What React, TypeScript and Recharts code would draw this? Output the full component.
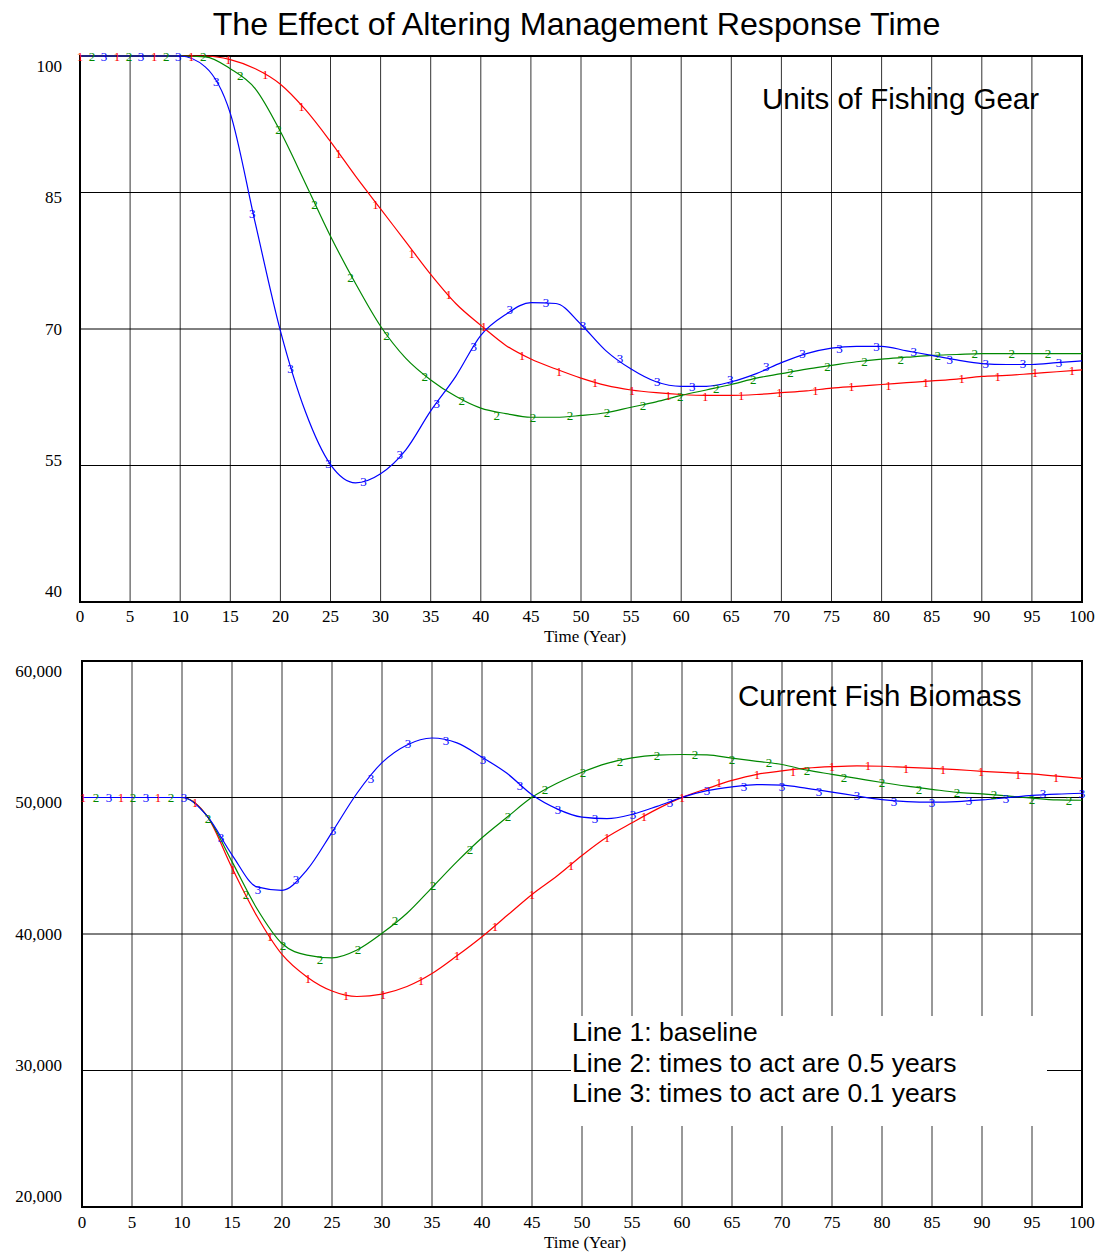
import React from "react";
import {
  ComposedChart,
  Line,
  XAxis,
  YAxis,
  CartesianGrid,
  ReferenceArea,
} from "recharts";

// time axis (years), sampled every 2.5 years
const TIME = [
  0, 2.5, 5, 7.5, 10, 12.5, 15, 17.5, 20, 22.5, 25, 27.5, 30, 32.5, 35, 37.5, 40,
  42.5, 45, 47.5, 50, 52.5, 55, 57.5, 60, 62.5, 65, 67.5, 70, 72.5, 75, 77.5, 80,
  82.5, 85, 87.5, 90, 92.5, 95, 97.5, 100,
];

// Units of Fishing Gear
const GEAR_1 = [
  100, 100, 100, 100, 100, 100, 99.6, 98.6, 96.9, 94.1, 90.6, 86.8, 83.2, 79.6, 76.0,
  72.8, 70.4, 68.2, 66.7, 65.6, 64.6, 63.8, 63.3, 63.0, 62.8, 62.7, 62.7, 62.8, 63.0,
  63.2, 63.5, 63.7, 63.9, 64.1, 64.3, 64.5, 64.8, 64.9, 65.1, 65.3, 65.5,
];
const GEAR_2 = [
  100, 100, 100, 100, 100, 99.9, 98.6, 96.4, 91.7, 86.0, 80.2, 75.0, 70.3, 66.8, 64.4,
  62.6, 61.3, 60.7, 60.3, 60.3, 60.5, 60.8, 61.4, 62.0, 62.7, 63.3, 63.9, 64.6, 65.1,
  65.6, 66.0, 66.4, 66.7, 66.9, 67.1, 67.2, 67.3, 67.3, 67.3, 67.3, 67.3,
];
const GEAR_3 = [
  100, 100, 100, 100, 100, 98.8, 93.7, 81.6, 69.8, 60.9, 55.1, 53.1, 54.1, 56.7, 61.0,
  64.8, 69.3, 71.6, 72.9, 72.8, 70.5, 67.6, 65.6, 64.2, 63.7, 63.7, 64.2, 65.1, 66.3,
  67.3, 67.9, 68.1, 68.1, 67.6, 67.1, 66.6, 66.2, 66.1, 66.1, 66.3, 66.5,
];

// Current Fish Biomass
const BIOMASS_1 = [
  50000, 50000, 50000, 50000, 50000, 48650, 44850, 41300, 38500, 36850, 35820, 35420,
  35600, 36150, 37100, 38400, 39800, 41350, 42900, 44250, 45750, 47100, 48150, 49150,
  50010, 50650, 51250, 51700, 51950, 52150, 52260, 52320, 52290, 52200, 52130, 52040,
  51920, 51820, 51730, 51560, 51400,
];
const BIOMASS_2 = [
  50000, 50000, 50000, 50000, 50000, 48650, 45300, 41850, 39300, 38450, 38250, 38830,
  40050, 41520, 43400, 45300, 47050, 48550, 50010, 51040, 51850, 52500, 52900, 53100,
  53150, 53120, 52880, 52650, 52420, 52000, 51700, 51400, 51100, 50830, 50600, 50380,
  50260, 50120, 49950, 49820, 49800,
];
const BIOMASS_3 = [
  50000, 50000, 50000, 50000, 50000, 48650, 45800, 43450, 43200, 44700, 47450, 50310,
  52550, 53850, 54360, 54000, 52950, 51770, 50200, 49170, 48560, 48450, 48760, 49350,
  50010, 50500, 50780, 50950, 50900, 50670, 50400, 50110, 49850, 49700, 49660, 49700,
  49820, 49980, 50150, 50250, 50310,
];

// numbered line markers [time, value]
const GEAR_MARKS_1 = [
  [0, 100], [3.7, 100], [7.4, 100], [11.1, 100], [14.8, 99.6], [18.5, 98.0], [22.1, 94.4],
  [25.8, 89.3], [29.5, 83.7], [33.1, 78.3], [36.8, 73.8], [40.3, 70.3], [44.1, 67.1],
  [47.8, 65.3], [51.4, 64.1], [55.1, 63.2], [58.7, 62.7], [62.4, 62.6], [66.0, 62.7],
  [69.8, 63.0], [73.4, 63.2], [77.0, 63.7], [80.7, 63.8], [84.4, 64.1], [88.0, 64.6],
  [91.6, 64.8], [95.3, 65.2], [99.0, 65.4],
];
const GEAR_MARKS_2 = [
  [1.2, 100], [4.9, 100], [8.6, 100], [12.3, 99.9], [16.0, 97.9], [19.8, 91.9], [23.4, 83.7],
  [27.0, 75.7], [30.6, 69.3], [34.4, 64.8], [38.1, 62.1], [41.6, 60.5], [45.2, 60.3],
  [48.9, 60.5], [52.6, 60.8], [56.2, 61.6], [59.9, 62.6], [63.5, 63.5], [67.2, 64.4],
  [70.9, 65.2], [74.6, 65.9], [78.3, 66.4], [81.9, 66.7], [85.6, 67.1], [89.3, 67.3],
  [93.0, 67.3], [96.6, 67.3],
];
const GEAR_MARKS_3 = [
  [2.4, 100], [6.1, 100], [9.8, 100], [13.6, 97.2], [17.2, 82.7], [21.0, 65.7], [24.8, 55.2],
  [28.3, 53.2], [31.9, 56.2], [35.6, 61.8], [39.3, 68.1], [42.9, 72.1], [46.5, 72.9],
  [50.2, 70.4], [53.9, 66.8], [57.6, 64.2], [61.1, 63.7], [64.9, 64.5], [68.5, 65.9],
  [72.1, 67.3], [75.8, 67.9], [79.5, 68.1], [83.2, 67.5], [86.8, 66.7], [90.4, 66.2],
  [94.1, 66.2], [97.7, 66.3],
];
const BIOMASS_MARKS_1 = [
  [0.1, 50000], [3.9, 50000], [7.6, 50000], [11.3, 49620], [15.1, 44690], [18.8, 39800],
  [22.6, 36760], [26.4, 35530], [30.1, 35600], [33.9, 36630], [37.5, 38390], [41.3, 40530],
  [45.0, 42860], [48.9, 45000], [52.5, 47060], [56.2, 48640], [60.0, 50010], [63.7, 51080],
  [67.5, 51720], [71.1, 51890], [75.0, 52260], [78.6, 52330], [82.4, 52140], [86.1, 52070],
  [89.9, 51890], [93.6, 51720], [97.4, 51480],
];
const BIOMASS_MARKS_2 = [
  [1.4, 50000], [5.1, 50000], [8.9, 50000], [12.6, 48480], [16.4, 42860], [20.1, 39190],
  [23.8, 38150], [27.6, 38880], [31.3, 40980], [35.1, 43520], [38.8, 46210], [42.6, 48590],
  [46.3, 50550], [50.1, 51840], [53.8, 52620], [57.5, 53060], [61.3, 53160], [65.0, 52820],
  [68.7, 52550], [72.5, 51960], [76.2, 51450], [80.0, 51080], [83.7, 50600], [87.5, 50380],
  [91.2, 50240], [95.0, 49820], [98.7, 49770],
];
const BIOMASS_MARKS_3 = [
  [2.7, 50000], [6.4, 50000], [10.2, 50000], [13.9, 47080], [17.6, 43270], [21.4, 44010],
  [25.1, 47570], [28.9, 51410], [32.6, 53920], [36.4, 54210], [40.1, 52820], [43.8, 50870],
  [47.6, 49140], [51.3, 48430], [55.1, 48770], [58.8, 49620], [62.5, 50500], [66.2, 50840],
  [70.0, 50840], [73.7, 50420], [77.5, 50110], [81.2, 49740], [85.0, 49650], [88.7, 49770],
  [92.4, 49940], [96.1, 50260], [100.0, 50310],
];

const X_TICKS = [
  0, 5, 10, 15, 20, 25, 30, 35, 40, 45, 50, 55, 60, 65, 70, 75, 80, 85, 90, 95, 100,
];
const GEAR_TICKS = [40, 55, 70, 85, 100];
const BIOMASS_TICKS = [20000, 30000, 40000, 50000, 60000];

const COLORS = ["#ff0000", "#008800", "#0000ff"];
const SERIF = "'Liberation Serif', 'Times New Roman', serif";
const SANS = "'Liberation Sans', Arial, sans-serif";

const markerDot = (color: string, label: string) => (props: any) => {
  const { cx, cy, index } = props;
  if (cx == null || cy == null) return <g key={`e-${label}-${index}`} />;
  return (
    <text
      key={`m-${label}-${index}`}
      x={cx}
      y={cy}
      fill={color}
      fontSize={13}
      fontFamily={SERIF}
      textAnchor="middle"
      dominantBaseline="central"
    >
      {label}
    </text>
  );
};

interface PanelProps {
  height: number;
  top: number;
  left: number;
  bottom: number;
  series: number[][];
  marks: number[][][];
  yDomain: [number, number];
  yTicks: number[];
  fmt: (v: number) => string;
  labelGap: number;
  tickGap: number;
}

function Panel({ height, top, left, bottom, series, marks, yDomain, yTicks, fmt, labelGap, tickGap }: PanelProps) {
  const rows = TIME.map((t, i) => ({ t, s1: series[0][i], s2: series[1][i], s3: series[2][i] }));
  const center = (top + height - bottom) / 2;

  const yTick = (p: any) => {
    const dy = (center - p.y) * 0.04;
    return (
      <text
        x={p.x}
        y={p.y + dy}
        textAnchor="end"
        dominantBaseline="central"
        fontFamily={SERIF}
        fontSize={17}
        fill="#000"
      >
        {fmt(p.payload.value)}
      </text>
    );
  };

  return (
    <ComposedChart
      width={1101}
      height={height}
      data={rows}
      margin={{ top, right: 19, left: 0, bottom: 0 }}
    >
      <CartesianGrid horizontal={false} stroke="#333" strokeWidth={1} />
      <CartesianGrid vertical={false} stroke="#000" strokeWidth={1} />
      <XAxis
        dataKey="t"
        type="number"
        domain={[0, 100]}
        ticks={X_TICKS}
        height={bottom}
        axisLine={false}
        tickSize={0}
        tickMargin={tickGap}
        tick={{ fontFamily: SERIF, fontSize: 17, fill: "#000" }}
      />
      <YAxis
        type="number"
        domain={yDomain}
        ticks={yTicks}
        width={left}
        axisLine={false}
        tickSize={0}
        tickMargin={labelGap}
        tick={yTick}
      />
      <ReferenceArea
        x1={0}
        x2={100}
        y1={yDomain[0]}
        y2={yDomain[1]}
        fill="none"
        fillOpacity={0}
        stroke="#000"
        strokeWidth={2}
      />
      {["s1", "s2", "s3"].map((k, i) => (
        <Line
          key={k}
          dataKey={k}
          type="monotone"
          stroke={COLORS[i]}
          strokeWidth={1.2}
          dot={false}
          activeDot={false}
          isAnimationActive={false}
        />
      ))}
      {marks.map((m, i) => (
        <Line
          key={`mk${i}`}
          data={m.map(([t, v]) => ({ t, m: v }))}
          dataKey="m"
          stroke="none"
          dot={markerDot(COLORS[i], String(i + 1))}
          activeDot={false}
          isAnimationActive={false}
        />
      ))}
    </ComposedChart>
  );
}

const abs = (s: React.CSSProperties): React.CSSProperties => ({ position: "absolute", ...s });

export default function App() {
  return (
    <div style={abs({ left: 0, top: 0, width: 1101, height: 1252, background: "#fff", overflow: "hidden" })}>
      <div style={abs({ left: 0, top: 0 })}>
        <Panel
          height={650}
          top={56}
          left={80}
          bottom={48}
          series={[GEAR_1, GEAR_2, GEAR_3]}
          marks={[GEAR_MARKS_1, GEAR_MARKS_2, GEAR_MARKS_3]}
          yDomain={[40, 100]}
          yTicks={GEAR_TICKS}
          fmt={(v) => String(v)}
          labelGap={18}
          tickGap={8}
        />
      </div>
      <div style={abs({ left: 0, top: 610 })}>
        <Panel
          height={640}
          top={51}
          left={82}
          bottom={43}
          series={[BIOMASS_1, BIOMASS_2, BIOMASS_3]}
          marks={[BIOMASS_MARKS_1, BIOMASS_MARKS_2, BIOMASS_MARKS_3]}
          yDomain={[20000, 60000]}
          yTicks={BIOMASS_TICKS}
          fmt={(v) => v.toLocaleString("en-US")}
          labelGap={20}
          tickGap={9}
        />
      </div>

      <div style={abs({ left: 0, width: 1153, top: 8, textAlign: "center", fontFamily: SANS, fontSize: 32.2, lineHeight: "32px", whiteSpace: "nowrap" })}>
        The Effect of Altering Management Response Time
      </div>
      <div style={abs({ left: 762, top: 84, fontFamily: SANS, fontSize: 29.5, lineHeight: "29px", whiteSpace: "nowrap" })}>
        Units of Fishing Gear
      </div>
      <div style={abs({ left: 738, top: 681, fontFamily: SANS, fontSize: 29.5, lineHeight: "29px", whiteSpace: "nowrap" })}>
        Current Fish Biomass
      </div>
      <div style={abs({ left: 485, width: 200, top: 628, textAlign: "center", fontFamily: SERIF, fontSize: 17, lineHeight: "17px" })}>
        Time (Year)
      </div>
      <div style={abs({ left: 485, width: 200, top: 1234, textAlign: "center", fontFamily: SERIF, fontSize: 17, lineHeight: "17px" })}>
        Time (Year)
      </div>
      <div
        style={abs({
          left: 571,
          top: 1016,
          width: 476,
          height: 110,
          background: "#fff",
          fontFamily: SANS,
          fontSize: 26.5,
          lineHeight: "30.5px",
          whiteSpace: "nowrap",
        })}
      >
        <div style={{ paddingLeft: 1, paddingTop: 1 }}>
          <div>Line 1: baseline</div>
          <div>Line 2: times to act are 0.5 years</div>
          <div>Line 3: times to act are 0.1 years</div>
        </div>
      </div>
    </div>
  );
}
